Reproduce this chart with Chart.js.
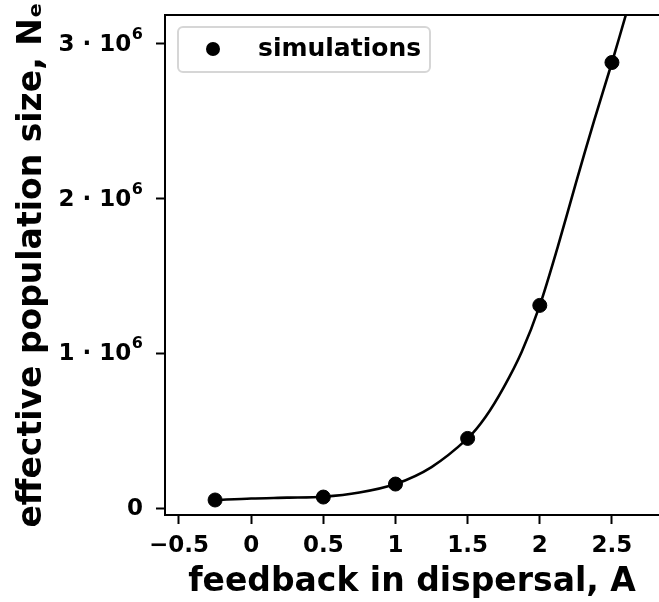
<!DOCTYPE html>
<html>
<head>
<meta charset="utf-8">
<script src="https://cdn.jsdelivr.net/npm/chart.js@4/dist/chart.umd.min.js"></script>
<style>
html,body{margin:0;padding:0;background:#fff;overflow:hidden;}
canvas{display:block;}
</style>
</head>
<body>
<canvas id="c" width="659" height="602"></canvas>
<script>
// Simulation points (feedback A, effective population size Ne)
const simA  = [-0.25, 0.5, 1.0, 1.5, 2.0, 2.5];
const simNe = [52000, 71000, 155000, 450000, 1310000, 2880000];

// Fitted curve
const fitA  = [-0.25, 0, 0.25, 0.5, 0.75, 1.0, 1.25, 1.5, 1.625, 1.75, 1.875, 2.0, 2.125, 2.25, 2.375, 2.5, 2.6];
const fitNe = [52000, 62000, 67000, 73000, 100000, 155000, 265000, 450000, 590000, 780000, 1010000, 1310000, 1690000, 2100000, 2500000, 2880000, 3200000];

const xTicks = [-0.5, 0, 0.5, 1, 1.5, 2, 2.5];
const yTicks = [0, 1000000, 2000000, 3000000];
const yTickMantissa = ['0', '1 · 10', '2 · 10', '3 · 10'];
const yTickExponent = ['', '6', '6', '6'];

const FONT = "'DejaVu Sans', sans-serif";

const frameAndLegend = {
  id: 'frameAndLegend',
  afterDraw(chart) {
    const {ctx, chartArea} = chart;
    const ys = chart.scales.y;
    ctx.save();
    // top spine
    ctx.strokeStyle = '#000';
    ctx.lineWidth = 2;
    ctx.beginPath();
    ctx.moveTo(chartArea.left - 1, chartArea.top);
    ctx.lineTo(chartArea.right + 2, chartArea.top);
    ctx.stroke();
    // y tick labels with superscript exponent
    ctx.fillStyle = '#000';
    ctx.textBaseline = 'middle';
    ctx.textAlign = 'right';
    const rightX = 143;
    yTicks.forEach((v, i) => {
      const py = ys.getPixelForValue(v);
      let x = rightX;
      if (yTickExponent[i]) {
        ctx.font = 'bold 16px ' + FONT;
        const w = ctx.measureText(yTickExponent[i]).width;
        ctx.fillText(yTickExponent[i], x, py - 9);
        x -= w + 0.5;
      }
      ctx.font = 'bold 23px ' + FONT;
      ctx.fillText(yTickMantissa[i], x, py + 1);
    });
    // legend box
    const lx = 178, ly = 27, lw = 252, lh = 45;
    ctx.fillStyle = 'rgba(255,255,255,0.85)';
    ctx.strokeStyle = '#d6d6d6';
    ctx.lineWidth = 2;
    ctx.beginPath();
    ctx.roundRect(lx, ly, lw, lh, 5);
    ctx.fill();
    ctx.stroke();
    ctx.fillStyle = '#000';
    ctx.beginPath();
    ctx.arc(213, 49, 7, 0, Math.PI * 2);
    ctx.fill();
    ctx.font = 'bold 25px ' + FONT;
    ctx.textBaseline = 'middle';
    ctx.textAlign = 'left';
    ctx.fillText(chart.data.datasets[1].label, 258, 49);
    ctx.restore();
  }
};

new Chart(document.getElementById('c'), {
  type: 'scatter',
  data: {
    datasets: [
      {
        type: 'line',
        label: 'fit',
        data: fitA.map((a, i) => ({x: a, y: fitNe[i]})),
        borderColor: '#000',
        borderWidth: 2.6,
        pointRadius: 0,
        fill: false,
        tension: 0.3,
        order: 2
      },
      {
        label: 'simulations',
        data: simA.map((a, i) => ({x: a, y: simNe[i]})),
        backgroundColor: '#000',
        borderColor: '#000',
        pointRadius: 7,
        pointHoverRadius: 7,
        order: 1
      }
    ]
  },
  options: {
    responsive: false,
    animation: false,
    devicePixelRatio: 1,
    layout: {autoPadding: false, padding: {top: 15, right: 0, left: 0, bottom: 0}},
    plugins: {legend: {display: false}, tooltip: {enabled: false}},
    scales: {
      x: {
        type: 'linear',
        min: -0.597,
        max: 2.826,
        afterBuildTicks: s => { s.ticks = xTicks.map(v => ({value: v})); },
        afterFit: s => { s.height = 87; s.paddingLeft = 0; s.paddingRight = 0; },
        grid: {drawOnChartArea: false, drawTicks: true, tickLength: 9, tickWidth: 2, tickColor: '#000'},
        border: {display: true, color: '#000', width: 2},
        ticks: {
          color: '#000',
          padding: 8,
          maxRotation: 0,
          font: {family: FONT, weight: 'bold', size: 23},
          callback: v => (v < 0 ? '\u2212' + Math.abs(v) : String(v))
        },
        title: {
          display: true,
          text: 'feedback in dispersal, A',
          color: '#000',
          font: {family: FONT, weight: 'bold', size: 33},
          padding: {top: 0, bottom: 0}
        }
      },
      y: {
        type: 'linear',
        min: -45000,
        max: 3187000,
        afterBuildTicks: s => { s.ticks = yTicks.map(v => ({value: v})); },
        afterFit: s => { s.width = 165; s.paddingTop = 0; s.paddingBottom = 0; },
        grid: {drawOnChartArea: false, drawTicks: true, tickLength: 9, tickWidth: 2, tickColor: '#000'},
        border: {display: true, color: '#000', width: 2},
        ticks: {
          display: false,
          font: {family: FONT, weight: 'bold', size: 23}
        },
        title: {
          display: true,
          text: 'effective population size, Nₑ',
          color: '#000',
          font: {family: FONT, weight: 'bold', size: 33},
          padding: {top: 13, bottom: 0}
        }
      }
    }
  },
  plugins: [frameAndLegend]
});
</script>
</body>
</html>
